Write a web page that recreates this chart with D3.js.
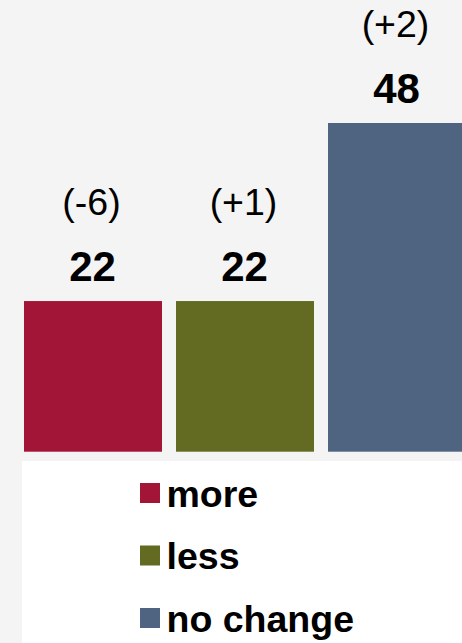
<!DOCTYPE html>
<html>
<head>
<meta charset="utf-8">
<script src="https://cdn.jsdelivr.net/npm/d3@7"></script>
<style>
  html, body { margin: 0; padding: 0; background: #f4f4f4; overflow: hidden; }
  svg { display: block; font-family: "Liberation Sans", Arial, Helvetica, sans-serif; }
</style>
</head>
<body>
<svg id="chart" width="462" height="643"></svg>
<script>
// Share of answers per category, with change versus the previous wave
const categories = ["more", "less", "no change"];
const values = [22, 22, 48];
const changes = ["(-6)", "(+1)", "(+2)"];
const colors = ["#a31537", "#626b21", "#4f6480"];

const W = 462, H = 643;
const svg = d3.select("#chart");

svg.append("rect").attr("width", W).attr("height", H).attr("fill", "#f4f4f4");

const x = d3.scaleBand()
  .domain(categories)
  .range([24, 466])
  .paddingInner(14 / 152)
  .paddingOuter(0);

const y = d3.scaleLinear()
  .domain([0, 48])
  .range([451.7, 123]);

// Bars
svg.append("g").selectAll("rect")
  .data(categories)
  .join("rect")
  .attr("x", d => x(d))
  .attr("y", (d, i) => y(values[i]))
  .attr("width", x.bandwidth())
  .attr("height", (d, i) => y(0) - y(values[i]))
  .attr("fill", (d, i) => colors[i]);

// Value labels
svg.append("g").selectAll("text")
  .data(categories)
  .join("text")
  .attr("x", d => x(d) + x.bandwidth() / 2 - 0.5)
  .attr("y", (d, i) => y(values[i]) - 20.5)
  .attr("text-anchor", "middle")
  .attr("font-size", 42)
  .attr("font-weight", "bold")
  .attr("fill", "#000")
  .text((d, i) => values[i]);

// Change labels
svg.append("g").selectAll("text")
  .data(categories)
  .join("text")
  .attr("x", d => x(d) + x.bandwidth() / 2 - 1.5)
  .attr("y", (d, i) => y(values[i]) - 86)
  .attr("text-anchor", "middle")
  .attr("font-size", 37.5)
  .attr("fill", "#000")
  .text((d, i) => changes[i]);

// Legend panel
svg.append("rect")
  .attr("x", 22).attr("y", 461)
  .attr("width", W - 22).attr("height", H - 461)
  .attr("fill", "#ffffff");

const legend = svg.append("g").selectAll("g")
  .data(categories)
  .join("g")
  .attr("transform", (d, i) => `translate(140, ${483 + i * 62.5})`);

legend.append("rect")
  .attr("width", 20).attr("height", 20)
  .attr("fill", (d, i) => colors[i]);

legend.append("text")
  .attr("x", 26.5)
  .attr("y", 23.5)
  .attr("font-size", 37.5)
  .attr("font-weight", "bold")
  .attr("fill", "#000")
  .text(d => d);
</script>
</body>
</html>
